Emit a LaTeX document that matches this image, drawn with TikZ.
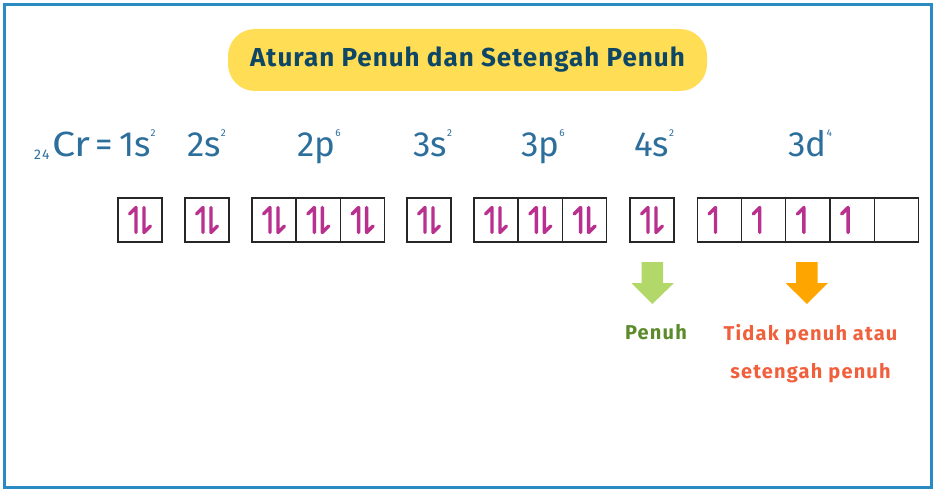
\documentclass[tikz,border=0pt]{standalone}
\usepackage{fontspec}
\setmainfont{Fira Sans}
\definecolor{frameblue}{HTML}{2A8BC2}
\definecolor{titlebg}{HTML}{FFDD55}
\definecolor{titletxt}{HTML}{0E4766}
\definecolor{cfgblue}{HTML}{2D6F9C}
\definecolor{spin}{HTML}{B8318E}
\definecolor{arrgreen}{HTML}{B2D86A}
\definecolor{arrorange}{HTML}{FFA500}
\definecolor{txtgreen}{HTML}{5B8B2A}
\definecolor{txtorange}{HTML}{F0603C}
\tikzset{
  orb/.style={draw=black!85, line width=1.1pt, minimum width=44pt, minimum height=44pt, inner sep=0pt},
  cfg/.style={text=cfgblue, font=\fontsize{35}{35}\selectfont, anchor=base west, inner sep=0pt},
  spinline/.style={draw=spin, line width=3.4pt, line cap=round, line join=round},
  upspin/.pic={\draw[spinline] (-4,12.5) -- (-4,-12.5) -- (-10.5,-6);},
  downspin/.pic={\draw[spinline] (4,-12.5) -- (4,12.5) -- (10.5,6);},
  pairspin/.pic={\pic{upspin}; \pic{downspin};},
}
\newcommand{\mysup}[1]{\raisebox{20pt}{\fontsize{10}{10}\selectfont #1}}
\begin{document}
\begin{tikzpicture}[x=1pt,y=-1pt]
\useasboundingbox (0,0) rectangle (937,492);
\fill[white] (0,0) rectangle (937,492);
\draw[frameblue, line width=2.8pt] (4.7,4.5) rectangle (931.3,487.3);
% title
\node[fill=titlebg, rounded corners=27pt, minimum width=479pt, minimum height=62pt, text=titletxt, font=\fontsize{26}{26}\selectfont\bfseries\addfontfeatures{LetterSpace=4}] (title) at (467.5,60) {Aturan Penuh dan Setengah Penuh};
% configuration
\node[cfg, font=\fontsize{14}{14}\selectfont\addfontfeatures{LetterSpace=10}] (c0a) at (34,160) {24};
\node[cfg] (c0b) at (52,157) {\scalebox{1.18}[1]{Cr}};
\node[cfg] (c0c) at (95,157) {=};
\node[cfg] (c0d) at (119,157) {1s\mysup{2}};
\node[cfg] (c1) at (187,157) {2s\mysup{2}};
\node[cfg] (c2) at (297,157) {2p\mysup{6}};
\node[cfg] (c3) at (413,157) {3s\mysup{2}};
\node[cfg] (c4) at (521,157) {3p\mysup{6}};
\node[cfg] (c5) at (634,157) {4s\mysup{2}};
\node[cfg] (c6) at (788,157) {3d\mysup{4}};
% orbitals
\foreach \n/\x in {s1/140,s2/207,p2a/274,p2b/318.3,p2c/362.6,s3/429,p3a/496,p3b/540.3,p3c/584.6,s4/652}{
  \node[orb] (\n) at (\x,220) {};
  \pic at (\n) {pairspin};
}
\foreach \n/\x in {d1/719.5,d2/763.7,d3/807.9,d4/852.1}{
  \node[orb] (\n) at (\x,220) {};
  \pic at (\n) {upspin};
}
\node[orb] (d5) at (896.3,220) {};
% arrows
\fill[arrgreen] (641.5,262) -- (663,262) -- (663,283) -- (674,283) -- (652.3,304) -- (631.5,283) -- (641.5,283) -- cycle;
\fill[arrorange] (796,262) -- (817.5,262) -- (817.5,283) -- (828,283) -- (806.8,304) -- (785.7,283) -- (796,283) -- cycle;
\node[text=txtgreen, font=\fontsize{20}{20}\selectfont\bfseries\addfontfeatures{LetterSpace=6}, anchor=base] (pen) at (656,339) {Penuh};
\node[text=txtorange, font=\fontsize{20}{20}\selectfont\bfseries\addfontfeatures{LetterSpace=6}, anchor=base] (tdk1) at (810.5,340) {Tidak penuh atau};
\node[text=txtorange, font=\fontsize{20}{20}\selectfont\bfseries\addfontfeatures{LetterSpace=6}, anchor=base] (tdk2) at (810.5,378) {setengah penuh};
\end{tikzpicture}
\end{document}
